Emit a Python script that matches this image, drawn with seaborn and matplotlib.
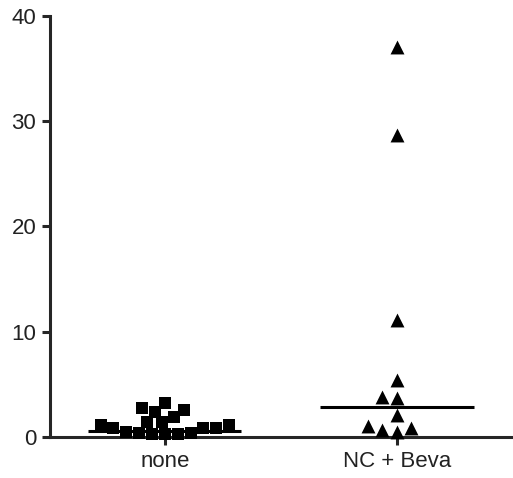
import pandas as pd
import seaborn as sns
from matplotlib import pyplot as plt

groups = ['none', 'NC + Beva']

none_values = [3.2, 2.75, 2.6, 2.4, 1.9,
               1.4, 1.4, 1.15, 1.1, 0.9, 0.85, 0.85,
               0.45, 0.4, 0.35, 0.3, 0.3, 0.25]
beva_values = [37.0, 28.7, 11.1, 5.4, 3.8, 3.7, 2.1, 1.0, 0.85, 0.65, 0.5]

# horizontal lines drawn by the original software
line_values = [0.55, 2.85]

none_df = pd.DataFrame({'group': 'none', 'value': none_values})
beva_df = pd.DataFrame({'group': 'NC + Beva', 'value': beva_values})

sns.set_style('ticks')
plt.rcParams['font.family'] = ['Liberation Sans', 'DejaVu Sans']

fig = plt.figure(figsize=(5.13, 4.78), dpi=100)
ax = fig.add_axes([0.0975, 0.0858, 0.9025, 0.881])

sns.swarmplot(data=none_df, x='group', y='value', order=groups, marker='s',
              color='black', size=9, linewidth=0, ax=ax, clip_on=False)
sns.swarmplot(data=beva_df, x='group', y='value', order=groups, marker='^',
              color='black', size=10, linewidth=0, ax=ax, clip_on=False)

for i, v in enumerate(line_values):
    ax.hlines(v, i - 0.33, i + 0.33, color='black', linewidth=2.2, zorder=5)

ax.set_xlim(-0.495, 1.5)
ax.set_ylim(0, 40)
ax.set_yticks([0, 10, 20, 30, 40])
ax.set_xlabel('')
ax.set_ylabel('')

sns.despine(ax=ax)
for side in ['left', 'bottom']:
    ax.spines[side].set_linewidth(2.2)
ax.tick_params(axis='both', width=2.2, length=6, labelsize=16,
               labelcolor='#222222', pad=4)

plt.savefig('out.png', dpi=100)
plt.close()
